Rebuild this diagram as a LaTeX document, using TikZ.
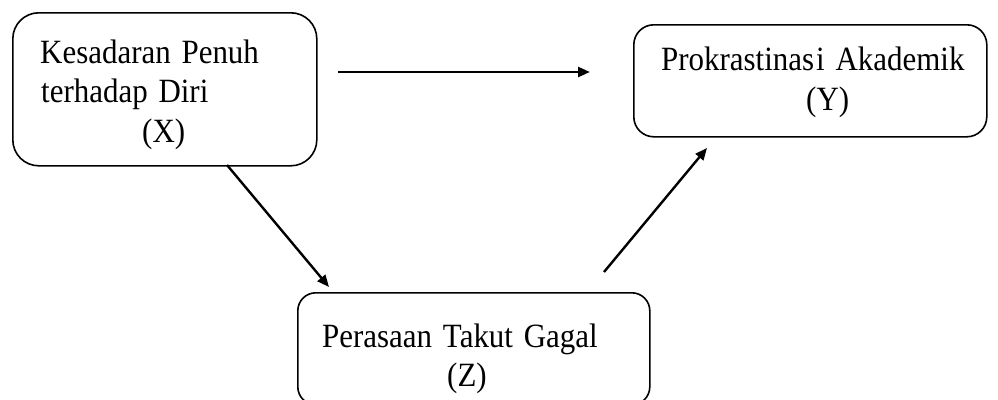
\documentclass[tikz,border=0pt]{standalone}
\usepackage{fontspec}
\setmainfont{Liberation Serif}
\newfontfamily\tallserif[FakeStretch=0.91,WordSpace=1.4]{Liberation Serif}
\usetikzlibrary{arrows.meta}
\begin{document}
\begin{tikzpicture}[x=1pt,y=-1pt,
  box/.style={draw, line width=1.6pt, rounded corners=#1, anchor=north west, inner sep=0pt},
  box/.default=20pt,
  lbl/.style={anchor=base west, inner sep=0pt, font=\tallserif\fontsize{34}{40}\selectfont},
  conn/.style={line width=2.4pt, -{Triangle[length=12pt,width=10pt]}}]
\useasboundingbox (0,0) rectangle (998,399);
% boxes
\node[box=26pt, minimum width=304pt, minimum height=153pt] (X) at (12,12) {};
\node[box=20pt, minimum width=353pt, minimum height=112pt] (Y) at (633,24) {};
\node[box=18pt, minimum width=352pt, minimum height=112pt] (Z) at (297,292) {};
% texts
\node[lbl] (x1) at (40,63) {Kesadaran Penuh};
\node[lbl] (x2) at (41,102) {terhadap Diri};
\node[lbl] (x3) at (142,142) {(X)};
\node[lbl] (y1) at (661,70) {Prokrastinas\kern2pt i\ Akademik};
\node[lbl] (y2) at (806,110) {(Y)};
\node[lbl] (z1) at (322,347) {Perasaan Takut Gagal};
\node[lbl] (z2) at (447,386) {(Z)};
% connector ends
\coordinate (xy1) at (338,72);
\coordinate (xy2) at (590,72);
\coordinate (xz1) at (227,165);
\coordinate (xz2) at (329,287);
\coordinate (zy1) at (604,272);
\coordinate (zy2) at (707,148);
\draw[conn] (xy1) -- (xy2);
\draw[conn] (xz1) -- (xz2);
\draw[conn] (zy1) -- (zy2);
\end{tikzpicture}
\end{document}
